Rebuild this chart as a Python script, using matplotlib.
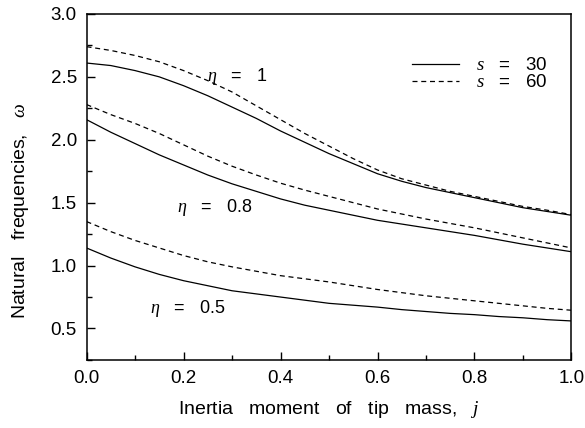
import matplotlib
matplotlib.use("Agg")
import matplotlib.pyplot as plt
from matplotlib.ticker import MultipleLocator

plt.rcParams['font.family'] = ['Liberation Sans', 'DejaVu Sans']
plt.rcParams['mathtext.fontset'] = 'custom'
plt.rcParams['mathtext.it'] = 'Liberation Serif:italic'
plt.rcParams['mathtext.rm'] = 'Liberation Sans'

# inertia moment of tip mass
j = [0.0, 0.05, 0.1, 0.15, 0.2, 0.25, 0.3, 0.35, 0.4, 0.45, 0.5,
     0.55, 0.6, 0.65, 0.7, 0.75, 0.8, 0.85, 0.9, 0.95, 1.0]

# eta = 1
eta1_s30 = [2.61, 2.59, 2.55, 2.50, 2.43, 2.35, 2.26, 2.17, 2.07, 1.98, 1.89,
            1.81, 1.73, 1.67, 1.62, 1.58, 1.54, 1.50, 1.46, 1.43, 1.40]
eta1_s60 = [2.74, 2.71, 2.67, 2.62, 2.55, 2.47, 2.38, 2.27, 2.16, 2.05, 1.95,
            1.85, 1.76, 1.69, 1.64, 1.59, 1.55, 1.51, 1.47, 1.44, 1.405]
# eta = 0.8
eta08_s30 = [2.16, 2.06, 1.97, 1.88, 1.80, 1.72, 1.65, 1.59, 1.53, 1.48, 1.44,
             1.40, 1.36, 1.33, 1.30, 1.27, 1.24, 1.205, 1.17, 1.14, 1.11]
eta08_s60 = [2.28, 2.20, 2.13, 2.05, 1.96, 1.87, 1.79, 1.72, 1.655, 1.60, 1.55,
             1.50, 1.45, 1.41, 1.37, 1.335, 1.30, 1.26, 1.22, 1.18, 1.14]
# eta = 0.5
eta05_s30 = [1.14, 1.06, 0.99, 0.93, 0.88, 0.84, 0.80, 0.775, 0.75, 0.725, 0.70,
             0.685, 0.67, 0.65, 0.635, 0.62, 0.61, 0.595, 0.585, 0.57, 0.56]
eta05_s60 = [1.35, 1.27, 1.20, 1.14, 1.08, 1.03, 0.99, 0.955, 0.92, 0.895, 0.87,
             0.84, 0.81, 0.785, 0.76, 0.74, 0.72, 0.70, 0.68, 0.66, 0.645]

fig = plt.figure(figsize=(5.85, 4.28), dpi=100)
ax = fig.add_axes([0.1479, 0.159, 0.829, 0.8084])

lw = 0.9
dash = (4, 3)
ax.plot(j, eta1_s30, 'k-', lw=lw, label=r'$s$   =   30')
ax.plot(j, eta1_s60, 'k--', lw=lw, dashes=dash, label=r'$s$   =   60')
ax.plot(j, eta08_s30, 'k-', lw=lw)
ax.plot(j, eta08_s60, 'k--', lw=lw, dashes=dash)
ax.plot(j, eta05_s30, 'k-', lw=lw)
ax.plot(j, eta05_s60, 'k--', lw=lw, dashes=dash)

ax.text(0.248, 2.50, r'$\eta$   =   1', fontsize=13, va='center')
ax.text(0.187, 1.46, r'$\eta$   =   0.8', fontsize=13, va='center')
ax.text(0.131, 0.66, r'$\eta$   =   0.5', fontsize=13, va='center')

ax.set_xlim(0, 1.0)
ax.set_ylim(0.25, 3.0)
ax.xaxis.set_major_locator(MultipleLocator(0.2))
ax.xaxis.set_minor_locator(MultipleLocator(0.1))
ax.yaxis.set_major_locator(MultipleLocator(0.5))
ax.yaxis.set_minor_locator(MultipleLocator(0.25))
ax.tick_params(which='both', direction='in', labelsize=13.5, width=1)
ax.tick_params(which='major', length=5.5, pad=7)
ax.tick_params(which='minor', length=3.5)
for sp in ax.spines.values():
    sp.set_linewidth(1.1)

ax.set_xlabel(r'Inertia   moment   of   tip   mass,   $j$', fontsize=14, labelpad=9)
ax.set_ylabel(r'Natural   frequencies,   $\omega$', fontsize=14)
ax.yaxis.set_label_coords(-0.115, 0.43)

leg = ax.legend(loc='upper right', bbox_to_anchor=(0.95, 0.875), frameon=False,
                fontsize=13.5, handlelength=2.5, handletextpad=0.9,
                labelspacing=0.0, borderaxespad=0, borderpad=0)

fig.savefig("out.png", dpi=100)
